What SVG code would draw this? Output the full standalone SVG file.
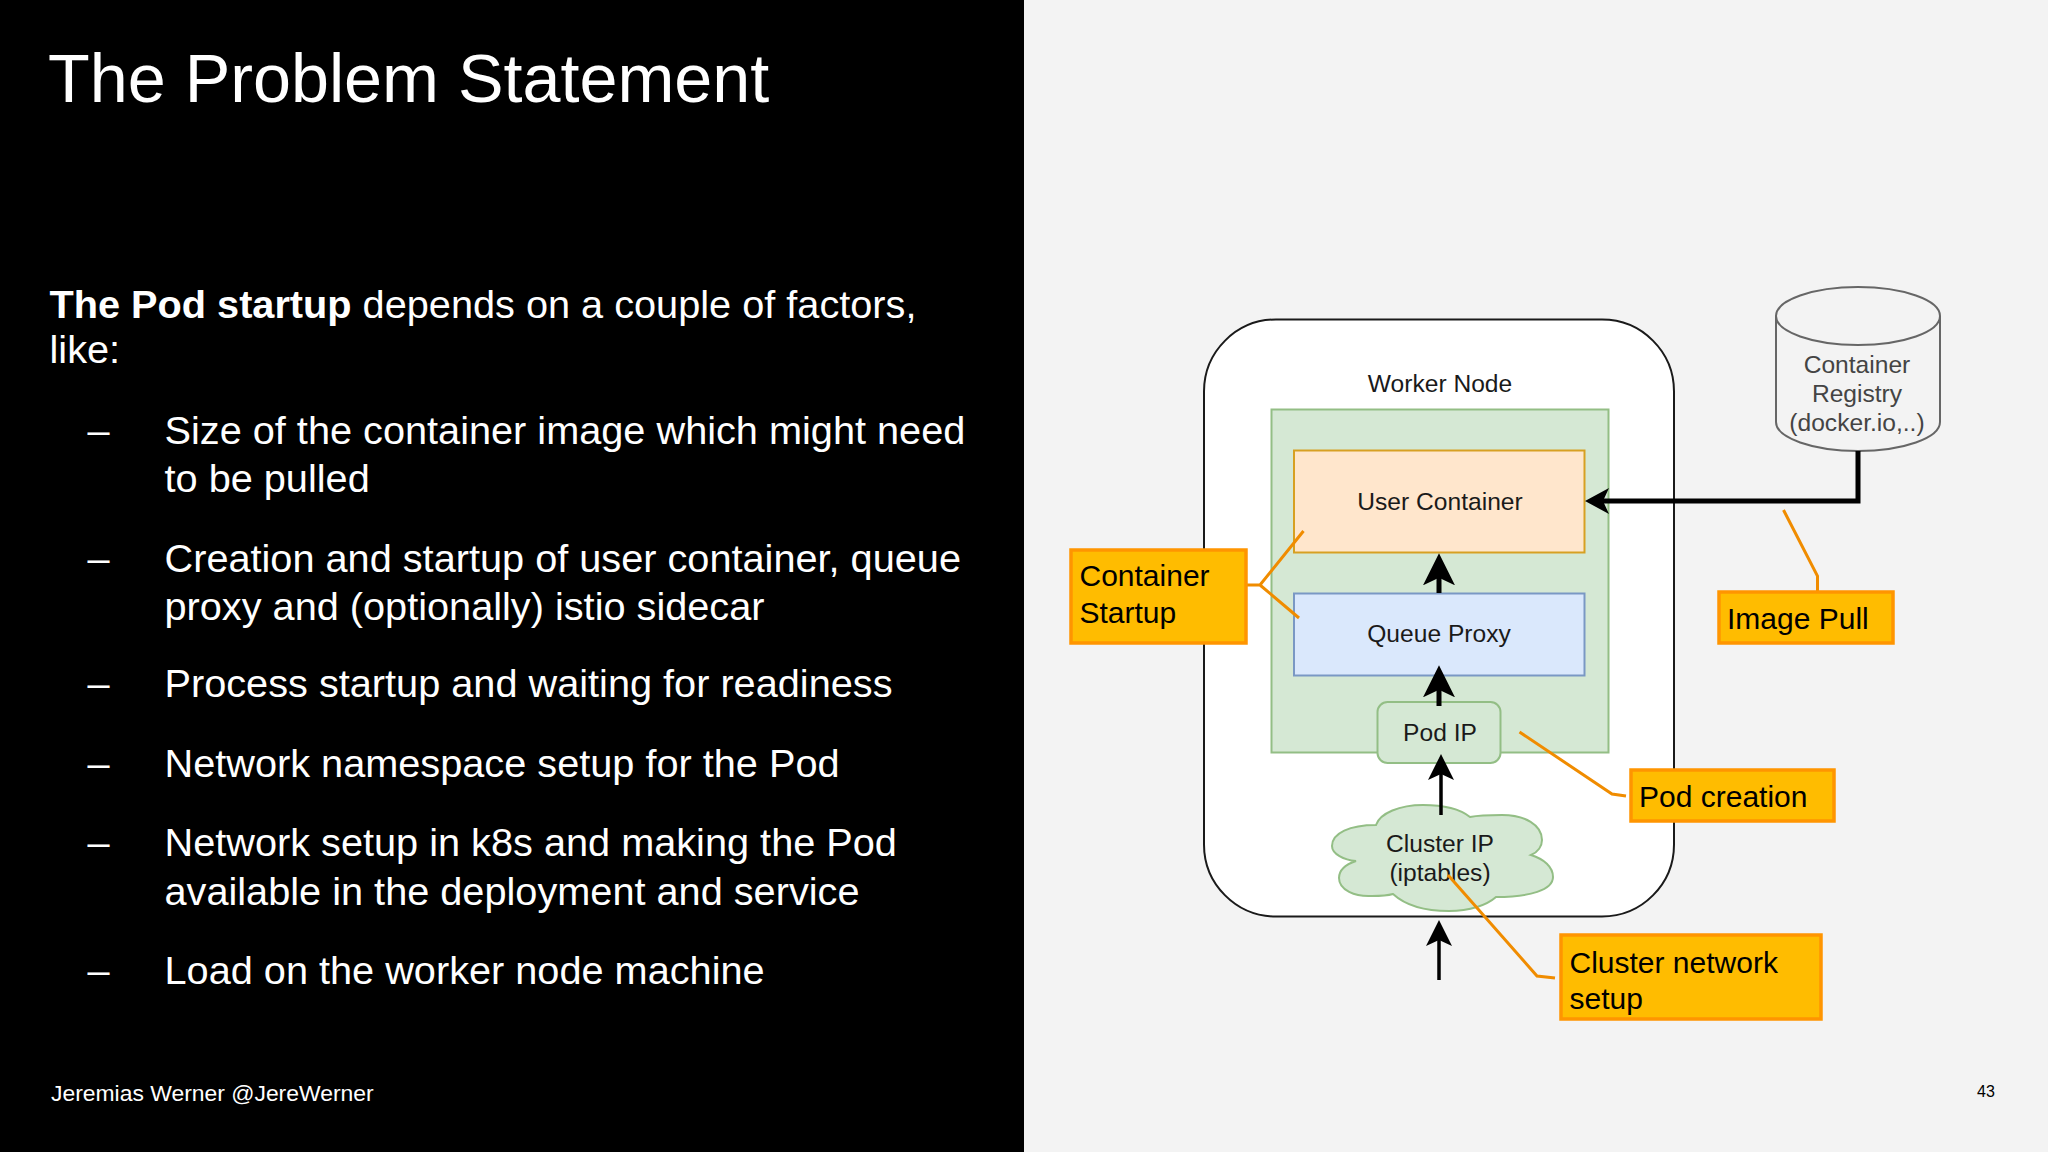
<svg xmlns="http://www.w3.org/2000/svg" width="2048" height="1152" viewBox="0 0 2048 1152">
<style>
text{font-family:"Liberation Sans",Arial,sans-serif}
.w{fill:#fff}
.title{font-size:68.300px}
.body{font-size:39.7px}
.foot{font-size:22.9px}
.d{font-size:24.6px;fill:#1a1a1a;text-anchor:middle}
.reg{fill:#444}
.l{font-size:30px;fill:#000}
.lb{fill:#FFBC00;stroke:#FF9500;stroke-width:3.5}
.o{fill:none;stroke:#F08C00;stroke-width:3}
.k{fill:none;stroke:#000;stroke-linejoin:miter}
</style>
<defs>
<marker id="hl" markerUnits="userSpaceOnUse" markerWidth="32" markerHeight="32" refX="20" refY="15" viewBox="0 0 30 30" orient="auto"><path d="M30 15L0 0L7 15L0 30Z"/></marker>
<marker id="hm" markerUnits="userSpaceOnUse" markerWidth="26" markerHeight="26" refX="16" refY="13" viewBox="0 0 26 26" orient="auto"><path d="M26 13L0 0L6 13L0 26Z"/></marker>
<marker id="hh" markerUnits="userSpaceOnUse" markerWidth="24" markerHeight="26" refX="14" refY="13" viewBox="0 0 24 26" orient="auto"><path d="M24 13L0 0L6 13L0 26Z"/></marker>
</defs>
<rect width="2048" height="1152" fill="#F3F3F3"/>
<rect width="1024" height="1152" fill="#000"/>
<g id="slide-text">
<text class="w title" x="48" y="102">The Problem Statement</text>
<text class="w body" x="49.500" y="318"><tspan font-weight="bold">The Pod startup</tspan> depends on a couple of factors,</text>
<text class="w body" x="49.500" y="363">like:</text>
<text class="w body" x="87.500" y="444">–</text><text class="w body" x="164.500" y="444">Size of the container image which might need</text>
<text class="w body" x="164.500" y="492">to be pulled</text>
<text class="w body" x="87.500" y="572">–</text><text class="w body" x="164.500" y="572">Creation and startup of user container, queue</text>
<text class="w body" x="164.500" y="620">proxy and (optionally) istio sidecar</text>
<text class="w body" x="87.500" y="697">–</text><text class="w body" x="164.500" y="697">Process startup and waiting for readiness</text>
<text class="w body" x="87.500" y="777">–</text><text class="w body" x="164.500" y="777">Network namespace setup for the Pod</text>
<text class="w body" x="87.500" y="856">–</text><text class="w body" x="164.500" y="856">Network setup in k8s and making the Pod</text>
<text class="w body" x="164.500" y="905">available in the deployment and service</text>
<text class="w body" x="87.500" y="984">–</text><text class="w body" x="164.500" y="984">Load on the worker node machine</text>
<text class="w foot" x="51" y="1101">Jeremias Werner @JereWerner</text>
<text class="foot" x="1977" y="1097" style="font-size:16px" fill="#000">43</text>
</g>
<g id="worker-node">
<rect x="1204" y="319.500" width="470" height="597" rx="72" ry="72" fill="#fff" stroke="#1a1a1a" stroke-width="2"/>
<text class="d" x="1440" y="392">Worker Node</text>
</g>
<g id="pod">
<rect x="1271.500" y="409.500" width="337" height="343" fill="#D5E8D4" stroke="#93BE85" stroke-width="2"/>
</g>
<g id="user-container">
<rect x="1294" y="450.500" width="290.500" height="102" fill="#FFE6CC" stroke="#D7A022" stroke-width="2"/>
<text class="d" x="1440" y="510">User Container</text>
</g>
<g id="queue-proxy">
<rect x="1294" y="593.500" width="290.500" height="82" fill="#DAE8FC" stroke="#7A98C4" stroke-width="2"/>
<text class="d" x="1439" y="642">Queue Proxy</text>
</g>
<g id="pod-ip">
<rect x="1377.500" y="702" width="123" height="61" rx="10" ry="10" fill="#D5E8D4" stroke="#93BE85" stroke-width="2"/>
<text class="d" x="1440" y="741">Pod IP</text>
</g>
<g id="cluster-ip">
<path d="M1376 825C1350 825 1332 833 1332 846C1332 854 1344 860 1356 861C1344 865 1339 871 1339 878C1339 890 1355 897 1372 896C1378 896 1386 896 1393 894C1405 905 1425 911 1449 911C1470 911 1487 905 1496 897C1530 897 1553 890 1553 877C1553 867 1544 859 1531 855C1538 852 1542 846 1542 840C1542 825 1525 815 1502 815C1490 815 1480 815 1470 817C1460 809 1442 805 1423 805C1400 805 1380 813 1376 825Z" fill="#D5E8D4" stroke="#93BE85" stroke-width="2"/>
<text class="d" x="1440" y="852">Cluster IP</text>
<text class="d" x="1440" y="881">(iptables)</text>
</g>
<g id="container-registry">
<path d="M1776 316V422C1776 438 1813 451 1858 451C1903 451 1940 438 1940 422V316C1940 300 1903 287 1858 287C1813 287 1776 300 1776 316C1776 332 1813 345 1858 345C1903 345 1940 332 1940 316" fill="#F3F3F3" stroke="#666" stroke-width="2"/>
<text class="d reg" x="1857" y="373">Container</text>
<text class="d reg" x="1857" y="402">Registry</text>
<text class="d reg" x="1857" y="431">(docker.io,..)</text>
</g>
<g id="connectors">
<path class="k" stroke-width="5" d="M1858 451V501H1595" marker-end="url(#hh)"/>
<path class="k" stroke-width="5" d="M1439 593V564" marker-end="url(#hl)"/>
<path class="k" stroke-width="5" d="M1439 706V676" marker-end="url(#hl)"/>
<path class="k" stroke-width="3.500" d="M1441 815V764" marker-end="url(#hm)"/>
<path class="k" stroke-width="3.500" d="M1439 980V930" marker-end="url(#hm)"/>
<path class="o" d="M1246 585H1260L1303.500 531M1260 585L1299 618"/>
<path class="o" d="M1817.500 591V576L1783.500 510"/>
<path class="o" d="M1626 796L1612 794L1519.500 732"/>
<path class="o" d="M1555 978L1537 976L1448 875"/>
</g>
<g id="label-container-startup">
<rect class="lb" x="1071" y="550" width="175" height="93"/>
<text class="l" x="1079.500" y="585.500">Container</text>
<text class="l" x="1079.500" y="623">Startup</text>
</g>
<g id="label-image-pull">
<rect class="lb" x="1719" y="592" width="174" height="51"/>
<text class="l" x="1727" y="629">Image Pull</text>
</g>
<g id="label-pod-creation">
<rect class="lb" x="1631" y="770" width="203" height="51"/>
<text class="l" x="1639" y="807">Pod creation</text>
</g>
<g id="label-cluster-network">
<rect class="lb" x="1561" y="935" width="260" height="84"/>
<text class="l" x="1569.500" y="972.500">Cluster network</text>
<text class="l" x="1569.500" y="1009">setup</text>
</g>
</svg>
